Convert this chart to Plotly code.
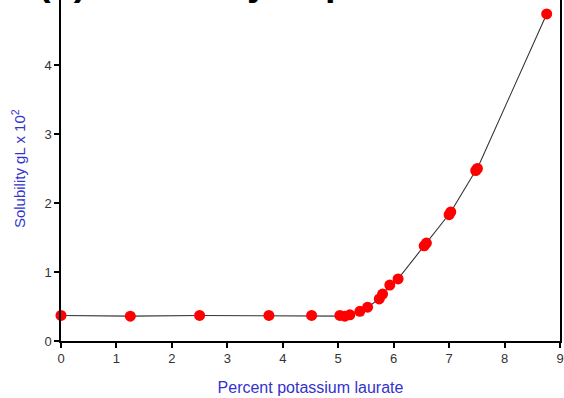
import plotly.graph_objects as go

# Data
laurate_pct = [0.0, 1.25, 2.5, 3.75, 4.52, 5.03, 5.12, 5.21, 5.39, 5.53, 5.74, 5.80,
               5.93, 6.08, 6.55, 6.59, 7.00, 7.03, 7.48, 7.51, 8.76]
solubility = [0.37, 0.36, 0.37, 0.37, 0.37, 0.37, 0.36, 0.38, 0.43, 0.49, 0.61, 0.68,
              0.81, 0.90, 1.38, 1.42, 1.83, 1.87, 2.47, 2.50, 4.74]
x_ticks = [0, 1, 2, 3, 4, 5, 6, 7, 8, 9]
y_ticks = [0, 1, 2, 3, 4]

fig = go.Figure()
fig.add_trace(go.Scatter(
    x=laurate_pct, y=solubility, mode="lines+markers",
    line=dict(color="#333333", width=1.1),
    marker=dict(color="#ff0000", size=11, line=dict(width=0)),
    showlegend=False, cliponaxis=False,
))

axis_common = dict(
    showline=True, linecolor="black", linewidth=1.5,
    ticks="outside", tickcolor="black", ticklen=5, tickwidth=1.5,
    showgrid=False, zeroline=False,
    tickfont=dict(family="Liberation Sans, Arial, sans-serif", size=13, color="#333333"),
)

fig.update_xaxes(range=[0, 9], tickvals=x_ticks, **axis_common,
                 title=dict(text="Percent potassium laurate",
                            font=dict(family="Liberation Sans, Arial, sans-serif", size=16, color="#3333cc"),
                            standoff=16))
fig.update_yaxes(range=[0, 4.942], tickvals=y_ticks, mirror=True,
                 ticksuffix="\u00a0\u00a0\u00a0", **axis_common)

fig.add_annotation(
    text="Solubility gL x 10<sup>2</sup>", textangle=-90, showarrow=False,
    xref="paper", yref="paper", x=-0.0862, y=0.507, xanchor="center", yanchor="middle",
    font=dict(family="Liberation Sans, Arial, sans-serif", size=15, color="#3333cc"),
)
fig.add_annotation(
    text="<b>(b) Solubility of potassium laurate</b>", showarrow=False,
    xref="paper", yref="paper", x=-0.05, y=1, xanchor="left", yanchor="bottom", yshift=-5,
    font=dict(family="Liberation Sans, Arial, sans-serif", size=38, color="black"),
)

fig.update_layout(
    width=564, height=398,
    margin=dict(l=61, r=4, t=0, b=57),
    plot_bgcolor="white", paper_bgcolor="white",
)

fig.write_html("out.html")
